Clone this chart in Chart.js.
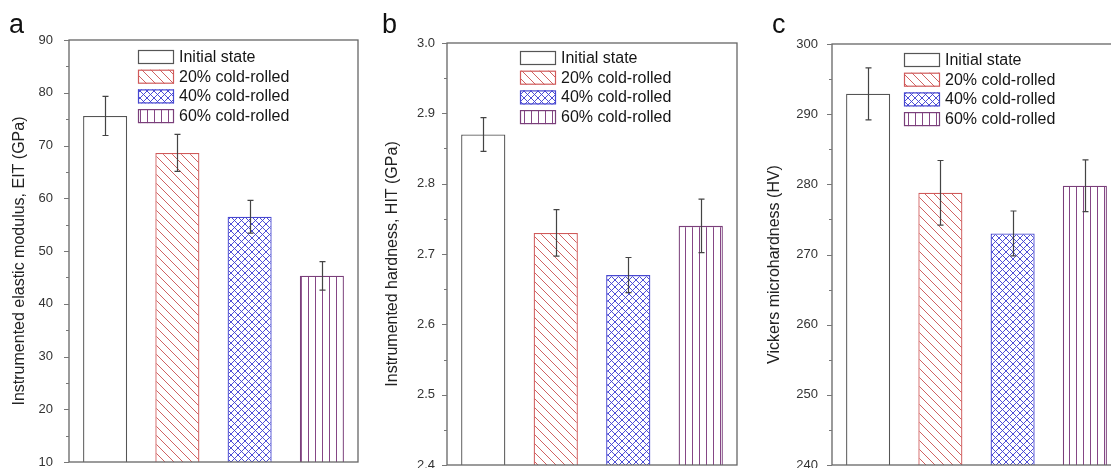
<!DOCTYPE html>
<html><head><meta charset="utf-8">
<script src="https://cdn.jsdelivr.net/npm/chart.js@4.4.0/dist/chart.umd.min.js"></script>
<style>
html,body{margin:0;padding:0;background:#fff;overflow:hidden;width:1111px;height:468px;position:relative;}
canvas{position:absolute;top:0;}
</style></head><body>
<canvas id="ca" width="370" height="468" style="left:0px"></canvas>
<canvas id="cb" width="370" height="468" style="left:370px"></canvas>
<canvas id="cc" width="400" height="468" style="left:740px"></canvas>
<script>
// ---- data ----
const categories = ['Initial state', '20% cold-rolled', '40% cold-rolled', '60% cold-rolled'];
const eitValues = [75.6, 68.6, 56.5, 45.3];
const eitErrors = [3.7, 3.5, 3.1, 2.7];
const hitValues = [2.87, 2.73, 2.67, 2.74];
const hitErrors = [0.024, 0.033, 0.025, 0.038];
const hvValues = [292.9, 278.8, 273.0, 279.8];
const hvErrors = [3.7, 4.6, 3.2, 3.7];
const panelLetters = ['a', 'b', 'c'];
const axisTitles = ['Instrumented elastic modulus, EIT (GPa)', 'Instrumented hardness, HIT (GPa)', 'Vickers microhardness (HV)'];

// ---- patterns ----
function makePattern(kind) {
  const c = document.createElement('canvas');
  const s = kind === 'diag' ? 9 : 7;
  c.width = s; c.height = s;
  const g = c.getContext('2d');
  g.fillStyle = '#ffffff'; g.fillRect(0, 0, s, s);
  g.lineWidth = 1;
  if (kind === 'diag') {
    g.strokeStyle = 'rgba(200,70,70,0.85)';
    g.beginPath();
    for (const o of [-s, 0, s]) { g.moveTo(o, 0); g.lineTo(o + s, s); }
    g.stroke();
  } else if (kind === 'cross') {
    g.strokeStyle = 'rgba(60,60,210,0.9)';
    g.beginPath();
    for (const o of [-s, 0, s]) { g.moveTo(o, 0); g.lineTo(o + s, s); g.moveTo(o + s, 0); g.lineTo(o, s); }
    g.stroke();
  } else if (kind === 'vert') {
    g.fillStyle = 'rgba(120,50,120,0.9)';
    g.fillRect(0, 0, 1, s);
  }
  return g.createPattern(c, 'repeat');
}
const fills = ['#ffffff', makePattern('diag'), makePattern('cross'), makePattern('vert')];
const borders = ['#555555', '#d05a5a', '#4848d0', '#7a3f7a'];

// ---- plugins ----
const framePlugin = {
  id: 'frameTicks',
  afterDraw(chart) {
    const {ctx, chartArea: a} = chart;
    const y = chart.scales.y;
    ctx.save();
    ctx.strokeStyle = '#666';
    ctx.lineWidth = 1.3;
    ctx.strokeRect(a.left, a.top, a.right - a.left, a.bottom - a.top);
    ctx.lineWidth = 1;
    ctx.strokeStyle = '#777';
    ctx.beginPath();
    y.ticks.forEach(t => {
      const py = Math.round(y.getPixelForValue(t.value)) + 0.5;
      const len = t.label !== '' ? 5 : 3;
      ctx.moveTo(a.left - len, py); ctx.lineTo(a.left, py);
    });
    ctx.stroke();
    ctx.restore();
  }
};
const errorPlugin = {
  id: 'errorBars',
  afterDatasetsDraw(chart) {
    const {ctx} = chart;
    const y = chart.scales.y;
    chart.data.datasets.forEach((ds, di) => {
      const meta = chart.getDatasetMeta(di);
      meta.data.forEach((bar, i) => {
        const v = ds.data[i], e = ds.errors[i];
        const x = Math.round(bar.x) + 0.5;
        const yt = y.getPixelForValue(v + e), yb = y.getPixelForValue(v - e);
        ctx.save();
        ctx.strokeStyle = '#444';
        ctx.lineWidth = 1.2;
        ctx.beginPath();
        ctx.moveTo(x, yt); ctx.lineTo(x, yb);
        ctx.moveTo(x - 3, yt); ctx.lineTo(x + 3, yt);
        ctx.moveTo(x - 3, yb); ctx.lineTo(x + 3, yb);
        ctx.stroke();
        ctx.restore();
      });
    });
  }
};
const legendPlugin = {
  id: 'patternLegend',
  afterDraw(chart, args, opts) {
    const {ctx, chartArea: a} = chart;
    const ds = chart.data.datasets[0];
    ctx.save();
    ctx.font = '16px "Liberation Sans", Arial, sans-serif';
    ctx.textBaseline = 'middle';
    chart.data.labels.forEach((lab, i) => {
      const bx = a.left + opts.dx, by = a.top + opts.dy + i * 19.7;
      ctx.fillStyle = ds.backgroundColor[i];
      ctx.fillRect(bx, by, 36, 14);
      ctx.strokeStyle = ds.borderColor[i];
      ctx.lineWidth = 1.2;
      ctx.strokeRect(bx + 0.5, by + 0.5, 35, 13);
      ctx.fillStyle = '#151515';
      ctx.fillText(lab, bx + 41, by + 7.5);
    });
    ctx.restore();
  }
};
const textPlugin = {
  id: 'panelText',
  afterDraw(chart, args, opts) {
    const {ctx, chartArea: a} = chart;
    ctx.save();
    ctx.font = '27px "Liberation Sans", Arial, sans-serif';
    ctx.fillStyle = '#111';
    ctx.textBaseline = 'alphabetic';
    ctx.fillText(opts.letter, opts.letterX, 33);
    // y-axis title
    ctx.translate(opts.titleX, (a.top + a.bottom) / 2 + 10);
    ctx.rotate(-Math.PI / 2);
    ctx.font = '16px "Liberation Sans", Arial, sans-serif';
    ctx.fillStyle = '#222';
    ctx.textAlign = 'center';
    ctx.textBaseline = 'middle';
    ctx.fillText(opts.title, 0, 0);
    ctx.restore();
  }
};

function buildChart(id, values, errors, cfg) {
  return new Chart(document.getElementById(id), {
    type: 'bar',
    data: {
      labels: categories,
      datasets: [{
        data: values,
        errors: errors,
        backgroundColor: fills,
        borderColor: borders,
        borderWidth: 1.3,
        borderSkipped: false,
        categoryPercentage: 1,
        barPercentage: 0.61
      }]
    },
    options: {
      responsive: false,
      animation: false,
      devicePixelRatio: 1,
      layout: {padding: cfg.pad},
      plugins: {
        legend: {display: false},
        tooltip: {enabled: false},
        patternLegend: {dx: cfg.legDx, dy: cfg.legDy},
        panelText: {letter: cfg.letter, letterX: cfg.letterX, title: cfg.title, titleX: cfg.titleX}
      },
      scales: {
        x: {display: false, offset: true},
        y: {
          min: cfg.min, max: cfg.max,
          afterFit(scale) { scale.width = cfg.axisW; scale.paddingTop = 0; scale.paddingBottom = 0; },
          border: {display: false},
          grid: {display: false, drawTicks: true, tickLength: cfg.tickPad},
          ticks: {
            stepSize: cfg.step / 2,
            autoSkip: false,
            padding: 0,
            color: '#333',
            font: {family: '"Liberation Sans", Arial, sans-serif', size: 13},
            callback(v) {
              const r = v / cfg.step;
              if (Math.abs(r - Math.round(r)) > 1e-6) return '';
              return cfg.dec ? v.toFixed(cfg.dec) : String(Math.round(v));
            }
          },
          title: {display: false}
        }
      }
    },
    plugins: [errorPlugin, framePlugin, legendPlugin, textPlugin]
  });
}

buildChart('ca', eitValues, eitErrors, {
  min: 10, max: 90, step: 10, dec: 0, axisW: 69, tickPad: 16, titleX: 20,
  pad: {left: 0, top: 40, right: 12, bottom: 6}, legDx: 69, legDy: 10,
  title: axisTitles[0], letter: panelLetters[0], letterX: 9
});
buildChart('cb', hitValues, hitErrors, {
  min: 2.4, max: 3.0, step: 0.1, dec: 1, axisW: 77, tickPad: 12, titleX: 23,
  pad: {left: 0, top: 43, right: 3, bottom: 3}, legDx: 73, legDy: 8,
  title: axisTitles[1], letter: panelLetters[1], letterX: 12
});
buildChart('cc', hvValues, hvErrors, {
  min: 240, max: 300, step: 10, dec: 0, axisW: 92, tickPad: 14, titleX: 35,
  pad: {left: 0, top: 44, right: 19, bottom: 3}, legDx: 72, legDy: 9,
  title: axisTitles[2], letter: panelLetters[2], letterX: 32
});
</script>
</body></html>
